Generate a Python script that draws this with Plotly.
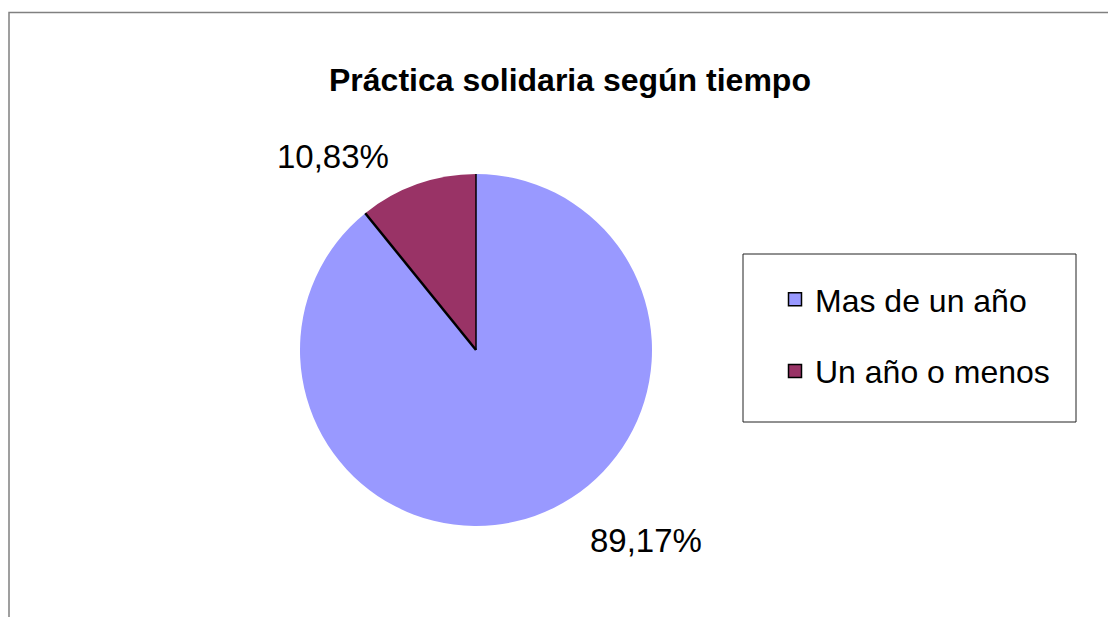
import math
import plotly.graph_objects as go

# ---- data ----
categories = ["Mas de un año", "Un año o menos"]
values = [89.17, 10.83]
colors = ["#9999FF", "#993366"]
title_text = "Práctica solidaria según tiempo"

W, H = 1116, 617
FONT = "Liberation Sans, Arial, sans-serif"
OFF = 8  # page body margin offset

def px(x):
    return (x - OFF) / W

def py(y):
    return 1 - (y - OFF) / H

# pie geometry (layout)
cx, cy, r = 476, 350, 176

fig = go.Figure()
fig.add_trace(go.Pie(
    labels=categories, values=values,
    marker=dict(colors=colors, line=dict(width=0)),
    sort=False, direction="clockwise", rotation=0,
    textinfo="none", hoverinfo="label+percent",
    showlegend=False,
    domain=dict(x=[px(cx - r), px(cx + r)], y=[py(cy + r), py(cy - r)]),
))

# legend entries
for i, (lab, col) in enumerate(zip(categories, colors)):
    fig.add_trace(go.Scatter(
        x=[None], y=[None], mode="markers", name=lab,
        legendgroup=f"g{i}",
        marker=dict(symbol="square", size=13, color=col, line=dict(color="black", width=1.5)),
    ))

# slice boundary lines (only radial edges, as in the source)
total = sum(values)
shapes = []
cum = 0.0
angles = [0.0]
for v in values[:-1]:
    cum += v
    angles.append(cum / total * 360.0)
for a in angles:
    rad = math.radians(a)
    x1 = cx + r * math.sin(rad)
    y1 = cy - r * math.cos(rad)
    shapes.append(dict(type="line", xref="paper", yref="paper",
                       x0=px(cx), y0=py(cy), x1=px(x1), y1=py(y1),
                       line=dict(color="black", width=2.5 if a else 1.5)))

# outer frame
shapes.append(dict(type="rect", xref="paper", yref="paper",
                   x0=px(9), y0=py(640), x1=px(1140), y1=py(12.5),
                   line=dict(color="#808080", width=1.5)))
# legend box
shapes.append(dict(type="rect", xref="paper", yref="paper",
                   x0=px(743), y0=py(422), x1=px(1076), y1=py(254),
                   line=dict(color="#222222", width=1)))

annotations = [
    dict(text=f"<b>{title_text}</b>", x=px(570), y=py(80), xref="paper", yref="paper",
         showarrow=False, font=dict(family=FONT, size=32, color="black"),
         xanchor="center", yanchor="middle"),
    dict(text=f"{values[1]:.2f}%".replace(".", ","), x=px(333), y=py(156),
         xref="paper", yref="paper", showarrow=False,
         font=dict(family=FONT, size=33, color="black"), xanchor="center", yanchor="middle"),
    dict(text=f"{values[0]:.2f}%".replace(".", ","), x=px(646), y=py(540),
         xref="paper", yref="paper", showarrow=False,
         font=dict(family=FONT, size=33, color="black"), xanchor="center", yanchor="middle"),
]

fig.update_layout(
    width=W, height=H,
    margin=dict(l=0, r=0, t=0, b=0),
    paper_bgcolor="white", plot_bgcolor="white",
    xaxis=dict(visible=False), yaxis=dict(visible=False),
    shapes=shapes, annotations=annotations,
    showlegend=True,
    legend=dict(x=px(775), y=py(272), xanchor="left", yanchor="top",
                bgcolor="rgba(0,0,0,0)", borderwidth=0,
                font=dict(family=FONT, size=32, color="black"),
                tracegroupgap=27, itemclick=False),
)

fig.write_html("out.html")
